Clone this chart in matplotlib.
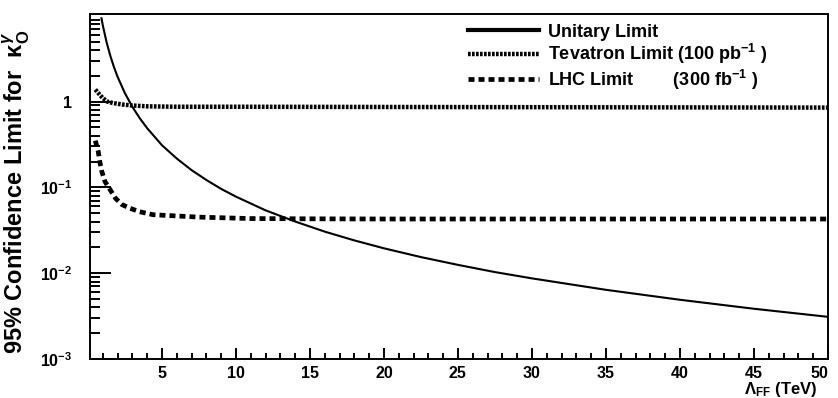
import numpy as np
from matplotlib import pyplot as plt
from matplotlib.lines import Line2D
from matplotlib.ticker import FixedLocator, MultipleLocator, LogLocator, NullFormatter

plt.rcParams['font.family'] = ['Liberation Sans', 'DejaVu Sans']
plt.rcParams['font.weight'] = 'bold'
plt.rcParams['mathtext.fontset'] = 'custom'
plt.rcParams['mathtext.rm'] = 'Liberation Sans'
plt.rcParams['mathtext.it'] = 'Liberation Sans:italic'
plt.rcParams['mathtext.bf'] = 'Liberation Sans:bold'

# Unitary bound vs. form-factor scale (TeV)
unitary_x = [0.9, 1.0, 1.25, 1.5, 1.75, 2.0, 2.5, 3.0, 3.5, 4.0, 5.0, 6.0, 7.0, 8.0, 9.0,
             10.0, 12.0, 14.0, 16.0, 18.0, 20.0, 22.5, 25.0, 27.5, 30.0, 35.0, 40.0, 45.0, 50.0]
unitary_y = [9.6, 7.8, 5.0, 3.47, 2.55, 1.95, 1.25, 0.87, 0.64, 0.49, 0.31, 0.217, 0.159, 0.122, 0.096,
             0.078, 0.054, 0.040, 0.0305, 0.0241, 0.0195, 0.0154, 0.0125, 0.0103, 0.0087, 0.0064,
             0.0049, 0.00385, 0.0031]

# Tevatron, 100 pb^-1
tevatron_x = [0.5, 0.8, 1.0, 1.3, 1.7, 2.4, 3.0, 4.0, 6.0, 10.0, 20.0, 30.0, 40.0, 50.0]
tevatron_y = [1.38, 1.2, 1.1, 1.0, 0.96, 0.92, 0.90, 0.88, 0.87, 0.87, 0.865, 0.86, 0.855, 0.85]

# LHC, 300 fb^-1
lhc_x = [0.5, 0.7, 0.8, 0.93, 1.15, 1.5, 1.85, 2.3, 2.85, 3.5, 4.4, 7.5, 11.0, 15.0, 20.0, 30.0, 40.0, 50.0]
lhc_y = [0.35, 0.26, 0.2, 0.155, 0.117, 0.094, 0.075, 0.063, 0.057, 0.052, 0.048, 0.045, 0.0433,
         0.043, 0.0428, 0.0428, 0.0428, 0.0428]

y_ticks = [1e-3, 1e-2, 1e-1, 1]
y_tick_labels = [r'$\mathbf{10^{-3}}$', r'$\mathbf{10^{-2}}$', r'$\mathbf{10^{-1}}$', '1']
legend_labels = ['Unitary Limit',
                 r'Tevatron Limit (100 pb$^{\mathbf{-1}}$ )',
                 r'LHC Limit        (300 fb$^{\mathbf{-1}}$ )']

fig = plt.figure(figsize=(8.38, 3.98), dpi=100)
ax = fig.add_axes([0.1074, 0.098, 0.8806, 0.867])

ax.plot(unitary_x, unitary_y, color='black', lw=1.5, solid_capstyle='butt')
ax.plot(tevatron_x, tevatron_y, color='black', lw=3.2, dashes=(0.6, 0.3), dash_capstyle='butt')
ax.plot(lhc_x, lhc_y, color='black', lw=3.4, dashes=(1.27, 0.85), dash_capstyle='butt')

ax.set_yscale('log')
ax.set_xlim(0.14, 50)
ax.set_ylim(1e-3, 10.5)

ax.xaxis.set_major_locator(MultipleLocator(5))
ax.xaxis.set_minor_locator(MultipleLocator(1))
ax.set_xticks([5, 10, 15, 20, 25, 30, 35, 40, 45, 50])
xlabels = ax.set_xticklabels(['5', '10', '15', '20', '25', '30', '35', '40', '45', '50'])
xlabels[-1].set_horizontalalignment('right')

ax.yaxis.set_major_locator(FixedLocator(y_ticks))
ax.set_yticklabels(y_tick_labels)
ax.yaxis.set_minor_locator(LogLocator(base=10, subs=np.arange(2, 10)))
ax.yaxis.set_minor_formatter(NullFormatter())

ax.tick_params(axis='x', which='major', direction='in', length=8, width=1.4, pad=5, labelsize=11.5)
ax.tick_params(axis='x', which='minor', direction='in', length=4.3, width=1.4)
ax.tick_params(axis='y', which='major', direction='in', length=15, width=1.4, pad=13, labelsize=11.5)
ax.tick_params(axis='y', which='minor', direction='in', length=7.5, width=1.4)
ax.tick_params(top=False, right=False, which='both')

for side in ax.spines.values():
    side.set_linewidth(1.4)

ax.set_ylabel(r'95% Confidence Limit for  $\mathrm{\kappa}_{\rm O}^{\gamma}$', fontsize=17,
              fontweight='bold')
ax.yaxis.set_label_coords(-0.078, 0.485)
ax.text(0.985, -0.088, r'$\Lambda_{\rm FF}$ (TeV)', transform=ax.transAxes,
        ha='right', va='center', fontsize=12, fontweight='bold')

handles = [Line2D([], [], color='black', lw=3.0),
           Line2D([], [], color='black', lw=3.2, dashes=(0.6, 0.3), dash_capstyle='butt'),
           Line2D([], [], color='black', lw=3.4, dashes=(1.27, 0.85), dash_capstyle='butt')]
ax.legend(handles, legend_labels, loc='upper left', bbox_to_anchor=(0.512, 0.972),
          frameon=False, fontsize=13, handlelength=3.94, handletextpad=0.5,
          labelspacing=0.08, borderpad=0, borderaxespad=0)

fig.savefig('out.png', dpi=100)
